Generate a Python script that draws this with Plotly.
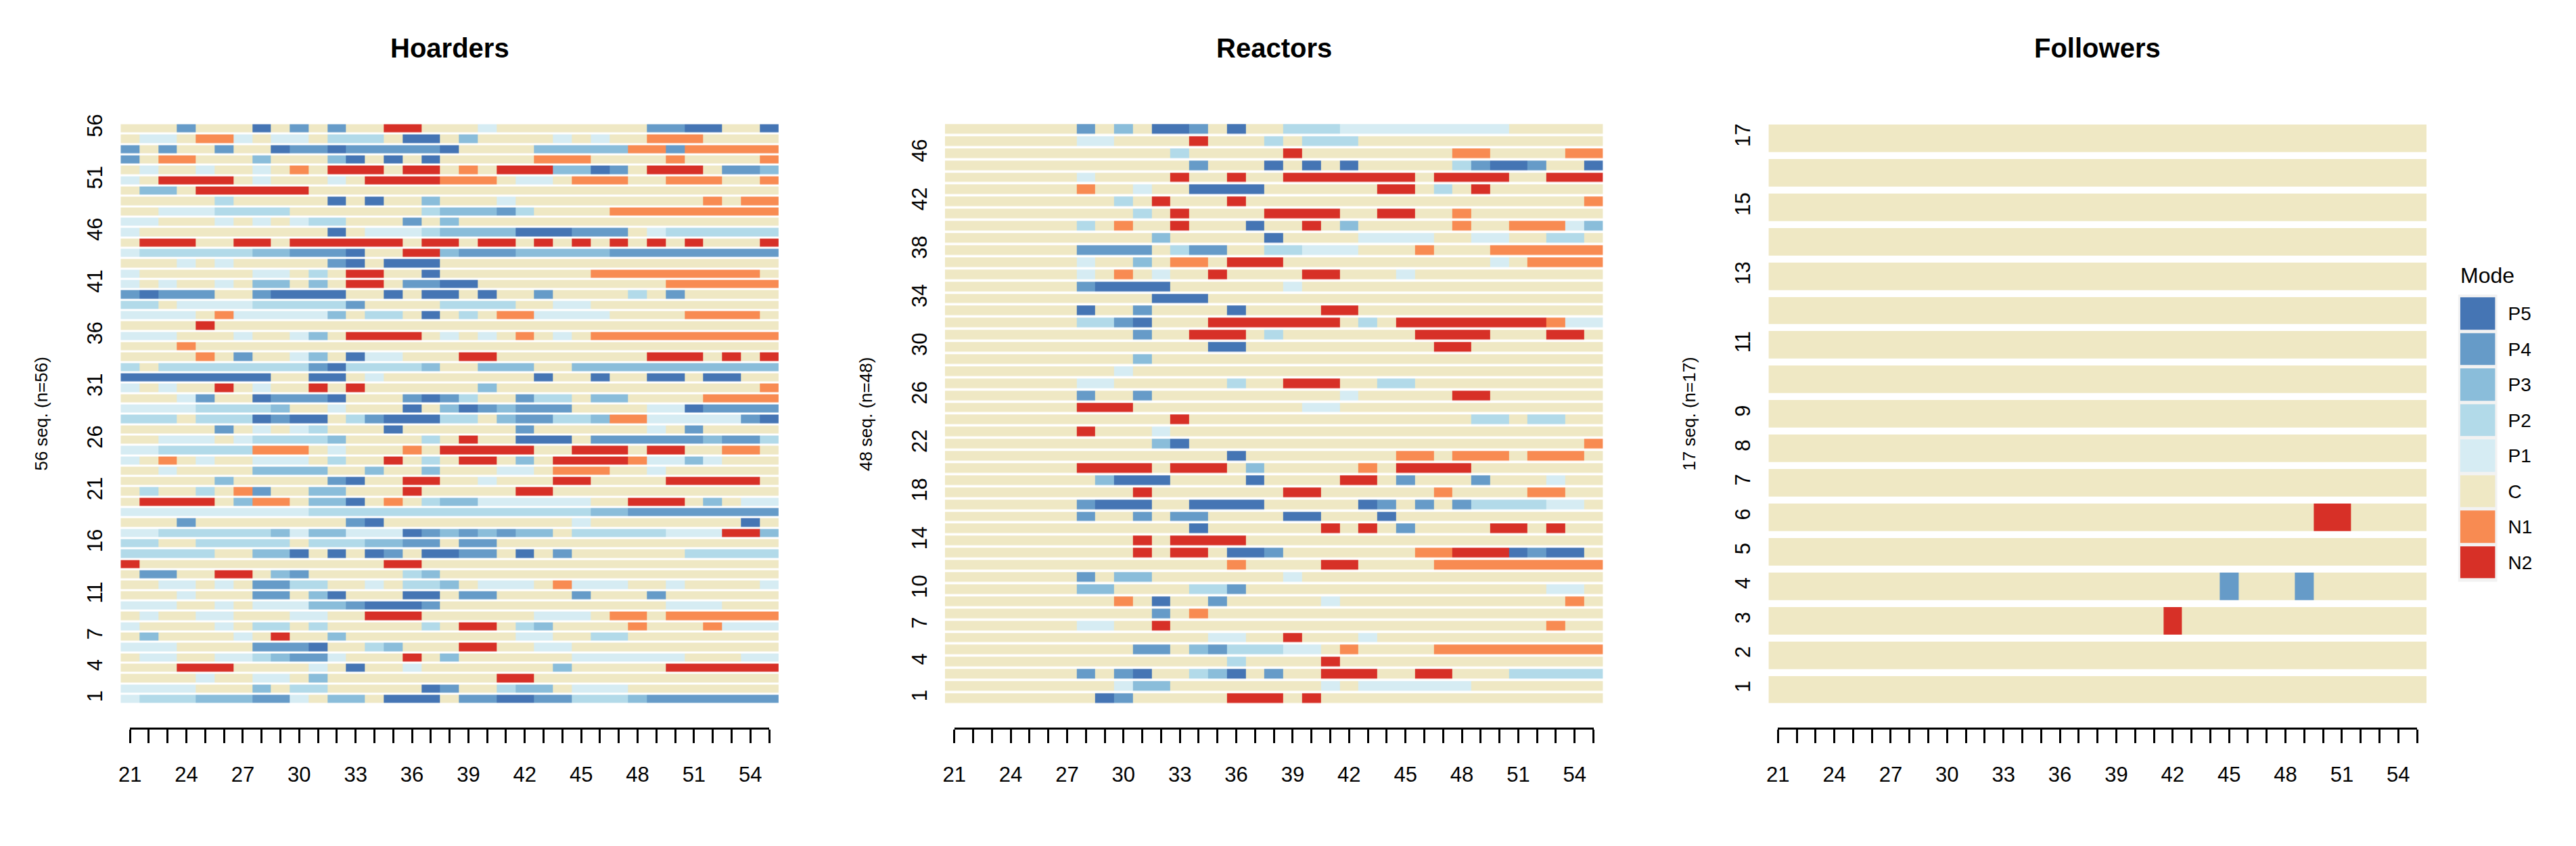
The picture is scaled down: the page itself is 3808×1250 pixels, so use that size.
import plotly.graph_objects as go

W, H = 3808, 1250

modes = ["P5", "P4", "P3", "P2", "P1", "C", "N1", "N2"]
mode_codes = ["5", "4", "3", "2", "1", "C", "n", "N"]
mode_colors = ["#4575B4", "#669BC8", "#8ABDDA", "#B2DAE9", "#D6ECF3", "#EFE8C4", "#F88B52", "#D73027"]

ages = [21, 22, 23, 24, 25, 26, 27, 28, 29, 30, 31, 32, 33, 34, 35, 36, 37, 38,
        39, 40, 41, 42, 43, 44, 45, 46, 47, 48, 49, 50, 51, 52, 53, 54, 55]
age_tick_vals = [21, 24, 27, 30, 33, 36, 39, 42, 45, 48, 51, 54]

# one string per sequence, top row first, one char per age 21..55
# 5..1 = P5..P1, C = C, n = N1, N = N2
hoarders = [
    "CCC4CCC5C4" "C4CCNNCCC1" "CCCCCCCC44" "55CC5",  # 56
    "C11Cnn1C11" "C222C55C3C" "CCC1C1CCnn" "nCCCC",
    "4C4CC4CC54" "45444445CC" "CC33333nn4" "nnnnn",
    "4CnnCCC3CC" "C35C5C5CCC" "CCnnnCCCCn" "CCCCn",
    "C1CC1CC1Cn" "CNNNCNNCnC" "NNN3354CNN" "NC443",
    "1CNNNNC1CC" "C1CNNNNnnn" "C11CnnnCCn" "nnCCn",  # 51
    "C33CNNNNNN" "CCCCCCCCCC" "CCCCCCCCCC" "CCCCC",
    "CCCCC2CCCC" "C5C5CC3CCC" "1CCCCCCCCC" "CnCnn",
    "CC1112222C" "CCCCCC2333" "42CCCCnnnn" "nnnnn",
    "11CCC1C1C1" "22CCC4C3CC" "CCCCCCCCCC" "CCCCC",
    "1CCCCCCCCC" "C5C1112333" "3555444C12" "22222",  # 46
    "CNNNCCNNCN" "NNNNNCNNCN" "NCNCNCNCNC" "NCCCN",
    "1222222334" "445CCNN344" "4333334444" "44444",
    "CCC1C1CCCC" "C45C555CCC" "CCCCCCCCCC" "CCCCC",
    "1CCCCCC11C" "2CNNCC5CCC" "CCCCCnnnnn" "nnnnC",
    "1C1CC1C33C" "3CNNC4455C" "CCCCCCCCCn" "nnnnn",  # 41
    "45444CC455" "55CC5C55C5" "CC4CCCC2C4" "CCCCC",
    "22C1111222" "224CCCC222" "2CC11CCCCC" "CCCCC",
    "1111Cn1111" "13C22C5C2C" "nn1111CCCC" "nnnnC",
    "CCCCNCCCCC" "CCCCCCCCCC" "CCCCCCCCCC" "CCCCC",
    "111CCC1CC1" "3CNNNNC1C1" "CnC1Cnnnnn" "nnnnn",  # 36
    "CCCnCCCCCC" "CCCCCCCCCC" "CCCCCCCCCC" "CCCCC",
    "CCCCnC4CC1" "3C511CCCNN" "CCCCCCCCNN" "NCNCN",
    "2C22222222" "4522223CC3" "33CC333333" "33333",
    "55555555CC" "55C1CCCCCC" "CC5CC5CC55" "C55CC",
    "1C1CCNC1CC" "NCNCCCCCC3" "CCCCCCCCCC" "CCCCn",  # 31
    "CCC14CC544" "45CCC4542C" "C422C33CCC" "Cnnnn",
    "111122223C" "C1CCC5C354" "3444CCCC11" "54444",
    "222C222545" "5C2455522C" "344223nn11" "11145",
    "CCCCC4C1C1" "2CCC5CCCCC" "C4CCCCCC1C" "4CCCC",
    "CC111C1222" "23CCCC2CNC" "C555C44444" "43442",  # 26
    "1122222nnn" "C1CCCnCNNN" "NNCCNNNCNN" "CCnnC",
    "1CnC1CC111" "C2CCNC2CNN" "C3CNNNNn11" "31CCC",
    "CC1CCCC333" "3CC3CC3CCC" "11CnnnCC1C" "CCCCC",
    "CCCCC3CCCC" "C45CCNNCC1" "CCCNNCCCCN" "NNNNC",
    "C2CC2Cn4CC" "33CCCNCCCC" "CNNCCCCCCC" "CCCCC",  # 21
    "CNNNNC3nnC" "335CnC2331" "11111CCNNN" "C3C11",
    "1111111111" "2222222222" "2222233444" "44444",
    "CCC4CCCCCC" "CC45CCCCCC" "CCCC1CCCCC" "CCC5C",
    "1122222231" "3311154343" "433C222221" "11NN3",
    "22CC22222C" "2223344C44" "CCCCCCCCCC" "CCCCC",  # 16
    "22222CC335" "C5C54C5544" "C5C4CCCCCC" "22222",
    "NCCCCCCCCC" "CCCCNNCCCC" "CCCCCCCCCC" "CCCCC",
    "C44CCNNC34" "CCCCC23CCC" "CCCCCCCCCC" "CCCCC",
    "CC11C1C442" "2CC1C223C1" "11Cn111CC1" "CCCC1",
    "CCC1CCC44C" "35CCC55C44" "CCCC4CCC4C" "CCCCC",  # 11
    "111CC1C111" "3345554CCC" "CCCCCCCCC1" "11CCC",
    "C1CC11CCC1" "1CCNNNCCCC" "CC111CnnCn" "nnnnn",
    "1CCCC1C22C" "2CCCCC2CNN" "C23CCCCnCC" "Cn111",
    "C3CCCC1CNC" "C3CCCCCCCC" "C11CC22CCC" "CCCCC",
    "111CCCC444" "5CC23CCCNN" "CC11CCCCCC" "CCCCC",  # 6
    "C11CC11234" "41CCCNC3CC" "CCCC111111" "CCC11",
    "CCCNNNCCCC" "1C5CC1CCCC" "CCC3CCCCCN" "NNNNN",
    "CCCC1CC11C" "3CCCCCCCCC" "NNCCCCCCCC" "CCCCC",
    "1111CCC3C2" "2CCCCC54CC" "233C111CCC" "CCCCC",
    "1222333441" "C33C555C44" "5544222344" "44444",  # 1
]

reactors = [
    "CCCCCCC4C3" "C554C5CC22" "2111111111" "CCCCC",  # 48
    "CCCCCCC11C" "CCCNCCC2C2" "22CCCCCCCC" "CCCCC",
    "CCCCCCCCCC" "CC2CCCCCNC" "CCCCCCCnnC" "CCCnn",
    "CCCCCCCCCC" "CCC4CCC5C5" "C5CCCCC245" "54CC5",
    "CCCCCCC1CC" "CCNCCNCCNN" "NNNNNCNNNN" "CCNNN",
    "CCCCCCCnCC" "1CC5555CCC" "CCCNNC2CNC" "CCCCC",  # 43
    "CCCCCCCCC2" "CNCCCNCCCC" "CCCCCCCCCC" "CCCCn",
    "CCCCCCCCCC" "2CNCCCCNNN" "NCCNNCCnCC" "CCCCC",
    "CCCCCCC2Cn" "CCNCCC5CCN" "C3CCCCCnCC" "nnn13",
    "CCCCCCCCCC" "C3CCCCC5CC" "CC1111CC11" "CC22C",
    "CCCCCCC444" "4C244CC221" "11CCCnCCCn" "nnnnn",  # 38
    "CCCCCCC1CC" "3CnnCNNNCC" "CCCCCCCCC1" "Cnnnn",
    "CCCCCCC1Cn" "C1CCNCCCCN" "NCCC1CCCCC" "CCCCC",
    "CCCCCCC455" "55CCCCCC1C" "CCCCCCCCCC" "CCCCC",
    "CCCCCCCCCC" "C555CCCCCC" "CCCCCCCCCC" "CCCCC",
    "CCCCCCC5CC" "4CCCC5CCCC" "NNCCCCCCCC" "CCCCC",  # 33
    "CCCCCCC224" "5CCCNNNNNN" "NC2CNNNNNN" "NNn11",
    "CCCCCCCCCC" "4CCNNNC2CC" "CCCCCNNNNC" "CCNNC",
    "CCCCCCCCCC" "CCCC55CCCC" "CCCCCCNNCC" "CCCCC",
    "CCCCCCCCCC" "3CCCCCCCCC" "CCCCCCCCCC" "CCCCC",
    "CCCCCCCCC1" "CCCCCCCCCC" "CCCCCCCCCC" "CCCCC",  # 28
    "CCCCCCC11C" "CCCCC2CCNN" "NCC22CCCCC" "CCCCC",
    "CCCCCCC4CC" "4CCCCCCCCC" "C1CCCCCNNC" "CCCCC",
    "CCCCCCCNNN" "CCCCCCCCC1" "1CCCCCCCCC" "CCCCC",
    "CCCCCCCCCC" "CCNCCCCCCC" "CCCCCCCC22" "C22CC",
    "CCCCCCCNCC" "C1CCCCCCCC" "CCCCCCCCCC" "CCCCC",  # 23
    "CCCCCCCCCC" "C35CCCCCCC" "CCCCCCCCCC" "CCCCn",
    "CCCCCCCCCC" "CCCCC5CCCC" "CCCCnnCnnn" "CnnnC",
    "CCCCCCCNNN" "NCNNNC3CCC" "CCnCNNNNCC" "CCCCC",
    "CCCCCCCC35" "55CCCC5CCC" "CNNC4CCC4C" "CC1CC",
    "CCCCCCCCCC" "NCCCCCCCNN" "CCCCCCnCCC" "CnnCC",  # 18
    "CCCCCCC455" "5CC5555CCC" "CC54C4C422" "2211C",
    "CCCCCCC4CC" "4C44CCCC55" "CCC5CCCCCC" "CCCCC",
    "CCCCCCCCCC" "CCC5CCCCCC" "NCNC4CCCCN" "NCNCC",
    "CCCCCCCCCC" "NCNNNNCCCC" "CCCCCCCCCC" "CCCCC",
    "CCCCCCCCCC" "NCNNC554CC" "CCCCCnnNNN" "5455C",  # 13
    "CCCCCCCCCC" "CCCCCnCCCC" "NNCCCCnnnn" "nnnnn",
    "CCCCCCC4C3" "3CCCCCCC1C" "CCCCCCCCCC" "CCCCC",
    "CCCCCCC33C" "CCC224CCCC" "CCCCCCCCCC" "CC11C",
    "CCCCCCCCCn" "C5CC4CCCCC" "1CCCCCCCCC" "CCCnC",
    "CCCCCCCCCC" "C4CnCCCCCC" "CCCCCCCCCC" "CCCCC",  # 8
    "CCCCCCC11C" "CNCCCCCCCC" "CCCCCCCCCC" "CCnCC",
    "CCCCCCCCCC" "CCCC11CCNC" "CC1CCCCCCC" "CCCCC",
    "CCCCCCCCCC" "44C3422211" "CnCCCCnnnn" "nnnnn",
    "CCCCCCCCCC" "CCCCC2CCCC" "NCCCCCCCCC" "CCCCC",
    "CCCCCCC4C4" "5CC235C4CC" "NNNCCNNCCC" "22222",  # 3
    "CCCCCCCCC1" "33CCCCCCCC" "1C111111CC" "CCCCC",
    "CCCCCCCC54" "CCCCCNNNCN" "CCCCCCCCCC" "CCCCC",  # 1
]

followers = [
    "CCCCCCCCCC" "CCCCCCCCCC" "CCCCCCCCCC" "CCCCC",  # 17
    "CCCCCCCCCC" "CCCCCCCCCC" "CCCCCCCCCC" "CCCCC",
    "CCCCCCCCCC" "CCCCCCCCCC" "CCCCCCCCCC" "CCCCC",
    "CCCCCCCCCC" "CCCCCCCCCC" "CCCCCCCCCC" "CCCCC",
    "CCCCCCCCCC" "CCCCCCCCCC" "CCCCCCCCCC" "CCCCC",
    "CCCCCCCCCC" "CCCCCCCCCC" "CCCCCCCCCC" "CCCCC",  # 12
    "CCCCCCCCCC" "CCCCCCCCCC" "CCCCCCCCCC" "CCCCC",
    "CCCCCCCCCC" "CCCCCCCCCC" "CCCCCCCCCC" "CCCCC",
    "CCCCCCCCCC" "CCCCCCCCCC" "CCCCCCCCCC" "CCCCC",
    "CCCCCCCCCC" "CCCCCCCCCC" "CCCCCCCCCC" "CCCCC",
    "CCCCCCCCCC" "CCCCCCCCCC" "CCCCCCCCCC" "CCCCC",  # 7
    "CCCCCCCCCC" "CCCCCCCCCC" "CCCCCCCCCN" "NCCCC",
    "CCCCCCCCCC" "CCCCCCCCCC" "CCCCCCCCCC" "CCCCC",
    "CCCCCCCCCC" "CCCCCCCCCC" "CCCC4CCC4C" "CCCCC",
    "CCCCCCCCCC" "CCCCCCCCCC" "CNCCCCCCCC" "CCCCC",
    "CCCCCCCCCC" "CCCCCCCCCC" "CCCCCCCCCC" "CCCCC",
    "CCCCCCCCCC" "CCCCCCCCCC" "CCCCCCCCCC" "CCCCC",  # 1
]

hoarders_yticks = [1, 4, 7, 11, 16, 21, 26, 31, 36, 41, 46, 51, 56]
reactors_yticks = [1, 4, 7, 10, 14, 18, 22, 26, 30, 34, 38, 42, 46]
followers_yticks = [1, 2, 3, 4, 5, 6, 7, 8, 9, 11, 13, 15, 17]

panels = [
    ("Hoarders", hoarders, hoarders_yticks, 162),
    ("Reactors", reactors, reactors_yticks, 1386),
    ("Followers", followers, followers_yticks, 2609),
]

# pixel layout
PANEL_W = 977
BAR_TOP, BAR_BOTTOM = 172, 1037
AXIS_Y = 1073
FONT = "Liberation Sans, Arial, sans-serif"

n_modes = len(modes)
colorscale = []
for i, c in enumerate(mode_colors):
    colorscale.append([i / n_modes, c])
    colorscale.append([(i + 1) / n_modes, c])


def px_x(p):
    return p / W


def px_y(p):
    return 1 - p / H


def ax(k):
    return "" if k == 1 else str(k)


fig = go.Figure()
layout = {}
annotations = []

for i, (name, seqs, yticks, left) in enumerate(panels):
    a, b = 2 * i + 1, 2 * i + 2
    n = len(seqs)
    z = []
    for row in reversed(seqs):
        row = (row + "C" * len(ages))[:len(ages)]
        z.append([mode_codes.index(ch) for ch in row])

    pitch = (BAR_BOTTOM - BAR_TOP) / (n - 0.2)
    top = BAR_TOP - 0.1 * pitch
    bottom = BAR_BOTTOM + 0.1 * pitch

    fig.add_trace(go.Heatmap(
        x=ages, y=list(range(1, n + 1)), z=z,
        xaxis="x" + ax(a), yaxis="y" + ax(a),
        colorscale=colorscale, zmin=-0.5, zmax=n_modes - 0.5,
        showscale=False, ygap=0.2 * pitch, hoverinfo="skip",
    ))
    layout["xaxis" + ax(a)] = dict(
        domain=[px_x(left), px_x(left + PANEL_W)], range=[ages[0] - 0.5, ages[-1] + 0.5],
        anchor="y" + ax(a), visible=False, fixedrange=True,
    )
    layout["yaxis" + ax(a)] = dict(
        domain=[px_y(bottom), px_y(top)], range=[0.5, n + 0.5], anchor="x" + ax(a),
        tickmode="array", tickvals=yticks, tickangle=-90, ticks="",
        tickfont=dict(size=31, color="black", family=FONT), ticklabelstandoff=20,
        showline=False, showgrid=False, zeroline=False, fixedrange=True,
    )

    # separate axis for the age ticks (centre of first cell to centre of last)
    cell = PANEL_W / len(ages)
    fig.add_trace(go.Scatter(
        x=[ages[0], ages[-1]], y=[0, 0], mode="markers", marker=dict(opacity=0),
        xaxis="x" + ax(b), yaxis="y" + ax(b), hoverinfo="skip", showlegend=False,
    ))
    layout["xaxis" + ax(b)] = dict(
        domain=[px_x(left + cell / 2), px_x(left + PANEL_W - cell / 2)],
        range=[ages[0], ages[-1]], anchor="y" + ax(b),
        tickmode="array", tickvals=age_tick_vals, ticks="outside", ticklen=20,
        tickwidth=2.5, tickcolor="black", showline=True, linewidth=3, linecolor="black",
        showgrid=False, zeroline=False, ticklabelstandoff=20,
        tickfont=dict(size=31, color="black", family=FONT),
        minor=dict(tickmode="array", tickvals=ages, ticks="outside", ticklen=20,
                   tickwidth=2.5, tickcolor="black", showgrid=False),
        fixedrange=True,
    )
    layout["yaxis" + ax(b)] = dict(
        domain=[px_y(AXIS_Y), px_y(AXIS_Y) + 0.02], range=[0, 1], anchor="x" + ax(b),
        visible=False, fixedrange=True,
    )

    annotations.append(dict(
        text="<b>%s</b>" % name, x=px_x(left + PANEL_W / 2), y=px_y(58),
        xref="paper", yref="paper", xanchor="center", yanchor="middle", showarrow=False,
        font=dict(size=40, color="black", family=FONT),
    ))
    annotations.append(dict(
        text="%d seq. (n=%d)" % (n, n), x=px_x(left - 118), y=px_y((BAR_TOP + BAR_BOTTOM) / 2),
        xref="paper", yref="paper", xanchor="center", yanchor="middle", showarrow=False,
        textangle=-90, font=dict(size=26, color="black", family=FONT),
    ))

# legend drawn as a one-column heatmap
fig.add_trace(go.Heatmap(
    x=[0], y=list(range(n_modes)), z=[[k] for k in range(n_modes)],
    xaxis="x7", yaxis="y7", colorscale=colorscale, zmin=-0.5, zmax=n_modes - 0.5,
    showscale=False, ygap=5, hoverinfo="skip",
))
layout["xaxis7"] = dict(domain=[px_x(3636), px_x(3688)], anchor="y7", visible=False, fixedrange=True)
layout["yaxis7"] = dict(
    domain=[px_y(853), px_y(428)], anchor="x7", side="right", autorange="reversed",
    tickmode="array", tickvals=list(range(n_modes)), ticktext=modes, ticks="",
    tickfont=dict(size=28, color="black", family=FONT), ticklabelstandoff=18,
    showline=False, showgrid=False, zeroline=False, fixedrange=True,
)
annotations.append(dict(
    text="Mode", x=px_x(3634), y=px_y(397), xref="paper", yref="paper",
    xanchor="left", yanchor="middle", showarrow=False,
    font=dict(size=32, color="black", family=FONT),
))

fig.update_layout(
    width=W, height=H,
    margin=dict(l=0, r=0, t=0, b=0),
    paper_bgcolor="white",
    plot_bgcolor="rgba(0,0,0,0)",
    showlegend=False,
    annotations=annotations,
    shapes=[dict(type="rect", xref="paper", yref="paper",
                 x0=px_x(3633), x1=px_x(3691), y0=px_y(855), y1=px_y(426),
                 fillcolor="#F2F2F2", line=dict(width=0), layer="below")],
    font=dict(family=FONT, color="black"),
    **layout,
)

# no page margin, so the figure sits at the window's top-left corner
fig.write_html("out.html", config={"displayModeBar": False},
               post_script="document.body.style.margin = '0px';")
